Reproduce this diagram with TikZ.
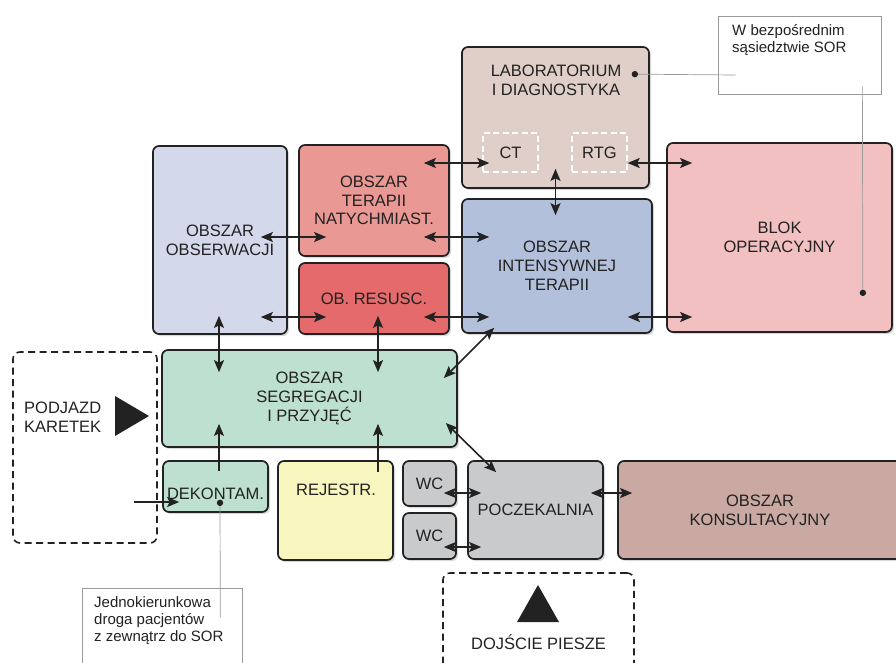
\documentclass[tikz,border=0pt]{standalone}
\usepackage{fontspec}
\setmainfont{Liberation Sans}
\usepackage{xcolor}
\usepackage{tikz}
\usetikzlibrary{arrows.meta,calc,shadows}
\definecolor{ink}{HTML}{222222}
\definecolor{obsfill}{HTML}{D3D8EA}
\definecolor{terfill}{HTML}{EA9894}
\definecolor{resfill}{HTML}{E56A6B}
\definecolor{labfill}{HTML}{DFCFC8}
\definecolor{oisfill}{HTML}{B3C0DB}
\definecolor{blokfill}{HTML}{F2C0C0}
\definecolor{segfill}{HTML}{BEE0D0}
\definecolor{rejfill}{HTML}{F8F5BE}
\definecolor{wcfill}{HTML}{C9CACC}
\definecolor{konsfill}{HTML}{C9A9A2}

\begin{document}
\begin{tikzpicture}[x=1pt,y=-1pt,font=\fontsize{16.5}{18.8}\selectfont,>={Stealth[length=12pt,width=10pt,inset=2.5pt]}]
\tikzset{room/.style={draw=ink,line width=1.7pt,rounded corners=6pt,align=center,text=ink,inner sep=0pt,drop shadow={shadow xshift=2pt,shadow yshift=-2pt,opacity=0.3}},
  dbl/.style={<->,draw=ink,line width=1.6pt}, arr/.style={->,draw=ink,line width=1.6pt},
  zone/.style={draw=ink,line width=1.6pt,dash pattern=on 7pt off 4.5pt,rounded corners=7pt},
  sub/.style={draw=white,line width=1.4pt,dash pattern=on 6pt off 3.5pt,text=ink,inner sep=0pt},
  note/.style={draw=black!40,line width=0.7pt,fill=white},
  notetxt/.style={font=\fontsize{15}{17}\selectfont,align=left,text=ink,inner sep=0pt},
  lead/.style={draw=black!40,line width=0.7pt}}
\useasboundingbox (0,0) rectangle (896,662);
% upper block
\node[room,fill=labfill,minimum width=187pt,minimum height=141pt] (lab) at (555.5,117.5) {};
\node[text=ink,align=center,inner sep=0pt] (labtxt) at (556,80) {LABORATORIUM\\I DIAGNOSTYKA};
\node[sub,minimum width=55pt,minimum height=39pt] (ct) at (510.5,152.5) {CT};
\node[sub,minimum width=55pt,minimum height=39pt] (rtg) at (599.5,152.5) {RTG};
\node[room,fill=obsfill,minimum width=134pt,minimum height=188pt] (obs) at (220,240) {OBSZAR\\OBSERWACJI};
\node[room,fill=terfill,minimum width=150pt,minimum height=111pt] (ter) at (374,200.5) {OBSZAR\\TERAPII\\NATYCHMIAST.};
\node[room,fill=resfill,minimum width=150pt,minimum height=71pt] (res) at (374,298.5) {OB. RESUSC.};
\node[room,fill=oisfill,minimum width=190pt,minimum height=134pt] (ois) at (557,266) {OBSZAR\\INTENSYWNEJ\\TERAPII};
\node[room,fill=blokfill,minimum width=225pt,minimum height=189pt] (blok) at (779.5,237.5) {BLOK\\OPERACYJNY};
% lower block
\node[room,fill=segfill,minimum width=295pt,minimum height=97pt] (seg) at (309.5,398.5) {OBSZAR\\SEGREGACJI\\I PRZYJĘĆ};
\node[room,fill=segfill,minimum width=105pt,minimum height=51pt] (dek) at (215.5,486.5) {};
\node[text=ink,inner sep=0pt] (dektxt) at (215.5,494) {DEKONTAM.};
\node[room,fill=rejfill,minimum width=115pt,minimum height=99pt] (rej) at (335.5,510.5) {};
\node[text=ink,inner sep=0pt] (rejtxt) at (336,490) {REJESTR.};
\node[room,fill=wcfill,minimum width=53pt,minimum height=45pt] (wca) at (429.5,483.5) {WC};
\node[room,fill=wcfill,minimum width=53pt,minimum height=46pt] (wcb) at (429.5,536) {WC};
\node[room,fill=wcfill,minimum width=135pt,minimum height=98pt] (pocz) at (535.5,510) {POCZEKALNIA};
\node[room,fill=konsfill,minimum width=284pt,minimum height=98pt] (kons) at (760,510) {OBSZAR\\KONSULTACYJNY};
% entrances
\node[zone,minimum width=144pt,minimum height=191pt] (podjazd) at (85,447.5) {};
\node[text=ink,align=left,anchor=west,inner sep=0pt] (podjazdtxt) at (24,417) {PODJAZD\\KARETEK};
\fill[ink] (115,396) -- (149,416) -- (115,436) -- cycle;
\node[zone,minimum width=191pt,minimum height=117pt] (dojscie) at (538.5,631.5) {};
\node[text=ink,inner sep=0pt] (dojscietxt) at (538.5,642) {DOJŚCIE PIESZE};
\fill[ink] (538,585) -- (559,622) -- (517,622) -- cycle;
% connections
\draw[dbl] ($(obs.east)+(-27,-3)$) -- ($(ter.west)+(28,36.5)$);
\draw[dbl] ($(obs.east)+(-27,77)$) -- ($(res.west)+(28,18.5)$);
\draw[dbl] ($(ter.east)+(-26,-37.5)$) -- ($(ct.west)+(7,10.5)$);
\draw[dbl] ($(ter.east)+(-26,36.5)$) -- ($(ois.west)+(28,-29)$);
\draw[dbl] ($(res.east)+(-26,18.5)$) -- ($(ois.west)+(28,51)$);
\draw[dbl] ($(lab.south)+(0,-20)$) -- ($(ois.north)+(-1.5,17)$);
\draw[dbl] ($(rtg.east)+(0,10.5)$) -- ($(blok.west)+(26,-74.5)$);
\draw[dbl] ($(ois.east)+(-25,51)$) -- ($(blok.west)+(26,79.5)$);
\draw[dbl] ($(obs.south)+(-1,-19)$) -- ($(seg.north)+(-90.5,23)$);
\draw[dbl] ($(res.south)+(4,-19)$) -- ($(seg.north)+(68.5,23)$);
\draw[dbl] ($(ois.south west)+(33,-6)$) -- ($(seg.east)+(-14,-20.5)$);
\draw[dbl] ($(seg.east)+(-12,24.5)$) -- ($(pocz.north west)+(29,12)$);
\draw[arr] ($(dek.north)+(3.5,11)$) -- ($(seg.south)+(-90.5,-24)$);
\draw[arr] ($(rej.north)+(42.5,12)$) -- ($(seg.south)+(68.5,-24)$);
\draw[arr] ($(podjazd.east)+(-24,54.5)$) -- ($(dek.west)+(17,15.5)$);
\draw[dbl] ($(wca.east)+(-13,9.5)$) -- ($(pocz.west)+(14,-17)$);
\draw[dbl] ($(wcb.east)+(-13,11)$) -- ($(pocz.west)+(14,37)$);
\draw[dbl] ($(pocz.east)+(-13,-17)$) -- ($(kons.west)+(15,-17)$);
% notes
\node[note,minimum width=163pt,minimum height=78pt] (uwaga) at (799.5,55) {};
\node[notetxt,anchor=west] (uwagatxt) at (732,40) {W bezpośrednim\\sąsiedztwie SOR};
\node[note,minimum width=160pt,minimum height=110pt] (droga) at (162,643) {};
\node[notetxt,anchor=west] (drogatxt) at (94,621) {Jednokierunkowa\\droga pacjentów\\z zewnątrz do SOR};
\coordinate (labdot) at ($(lab.north east)+(-15,28)$);
\coordinate (blokdot) at ($(blok.south east)+(-30,-40)$);
\coordinate (dekdot) at ($(dek.south)+(4.5,-10)$);
\draw[lead] (labdot) -- ($(uwaga.west)+(18,20)$);
\draw[lead] (blokdot) -- ($(uwaga.south east)+(-19,-8)$);
\draw[lead] (dekdot) -- ($(droga.north east)+(-22,30)$);
\fill[ink] (labdot) circle (3.2pt);
\fill[ink] (blokdot) circle (3.2pt);
\fill[ink] (dekdot) circle (3.2pt);
\end{tikzpicture}
\end{document}
